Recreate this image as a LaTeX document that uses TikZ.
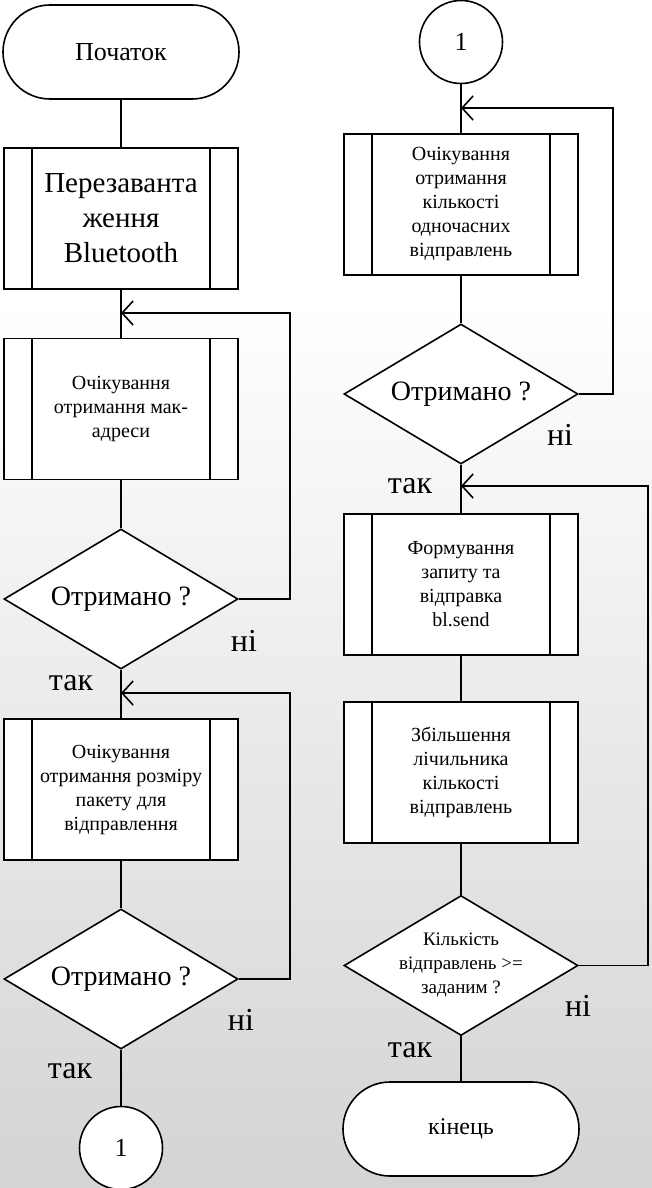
\documentclass[tikz,border=0pt]{standalone}
\usepackage{fontspec}
\setmainfont{Liberation Serif}
\usetikzlibrary{shapes.geometric,arrows.meta}
\tikzset{
  term/.style={draw, fill=white, rectangle, rounded corners=47pt, minimum width=236pt, minimum height=94pt, font=\fontsize{26}{30}\selectfont},
  subproc/.style={draw, fill=white, rectangle, minimum width=234pt, minimum height=141pt, align=center, font=\fontsize{20}{24}\selectfont,
    path picture={
      \draw ([xshift=28pt]path picture bounding box.north west) -- ([xshift=28pt]path picture bounding box.south west);
      \draw ([xshift=-28pt]path picture bounding box.north east) -- ([xshift=-28pt]path picture bounding box.south east);
    }},
  decide/.style={draw, fill=white, diamond, aspect=1.67, minimum width=234pt, minimum height=140pt, inner sep=0pt, align=center, font=\fontsize{28}{32}\selectfont},
  conn/.style={draw, fill=white, circle, minimum size=83pt, inner sep=0pt, font=\fontsize{26}{30}\selectfont},
  answer/.style={inner sep=0pt, font=\fontsize{32}{36}\selectfont}
}
\begin{document}
\begin{tikzpicture}[x=1pt, y=-1pt, line width=1.6pt, >={Straight Barb[length=11pt,width=24pt]}]
\useasboundingbox (0,0) rectangle (652,1188);
\fill[white] (0,0) rectangle (652,300);
\shade[top color=white, bottom color=black!17] (0,300) rectangle (652,1188);

% left column
\node[term] (start) at (121,52) {Початок};
\node[subproc, font=\fontsize{29}{35}\selectfont] (reboot) at (121,218.5) {Перезаванта\\ження\\Bluetooth};
\node[subproc] (mac) at (121,409) {Очікування\\отримання мак-\\адреси};
\node[decide] (chk1) at (121,599) {Отримано ?};
\node[subproc] (size) at (121,789.5) {Очікування\\отримання розміру\\пакету для\\відправлення};
\node[decide] (chk2) at (121,979) {Отримано ?};
\node[conn] (conA) at (121,1148) {1};

% right column
\node[conn] (conB) at (461,42) {1};
\node[subproc] (count) at (461,204.5) {Очікування\\отримання\\кількості\\одночасних\\відправлень};
\node[decide] (chk3) at (461,394) {Отримано ?};
\node[subproc] (send) at (461,584.5) {Формування\\запиту та\\відправка\\bl.send};
\node[subproc] (inc) at (461,772.5) {Збільшення\\лічильника\\кількості\\відправлень};
\node[decide, font=\fontsize{19}{24}\selectfont] (chk4) at (461,965.5) {Кількість\\відправлень >=\\заданим ?};
\node[term, font=\fontsize{24}{28}\selectfont] (stop) at (461,1129) {кінець};

% answers
\node[answer] (no1) at (244,641) {ні};
\node[answer] (yes1) at (71,683) {так};
\node[answer] (no2) at (241,1020) {ні};
\node[answer] (yes2) at (70,1071) {так};
\node[answer] (no3) at (560,435) {ні};
\node[answer] (yes3) at (410,486) {так};
\node[answer] (no4) at (578,1006) {ні};
\node[answer] (yes4) at (410,1050) {так};

% merge points
\coordinate (m1) at (121,313);
\coordinate (r1) at (290,313);
\coordinate (m2) at (121,693);
\coordinate (r2) at (290,693);
\coordinate (m3) at (461,108);
\coordinate (r3) at (613,108);
\coordinate (m4) at (461,486);
\coordinate (r4) at (648,486);

\draw (start) -- (reboot);
\draw (reboot) -- (mac);
\draw (mac) -- (chk1);
\draw (chk1) -- (size);
\draw (size) -- (chk2);
\draw (chk2) -- (conA);
\draw (conB) -- (count);
\draw (count) -- (chk3);
\draw (chk3) -- (send);
\draw (send) -- (inc);
\draw (inc) -- (chk4);
\draw (chk4) -- (stop);
\draw[->] (chk1.east) -| (r1) -- (m1);
\draw[->] (chk2.east) -| (r2) -- (m2);
\draw[->] (chk3.east) -| (r3) -- (m3);
\draw[->] (chk4.east) -| (r4) -- (m4);
\end{tikzpicture}
\end{document}
